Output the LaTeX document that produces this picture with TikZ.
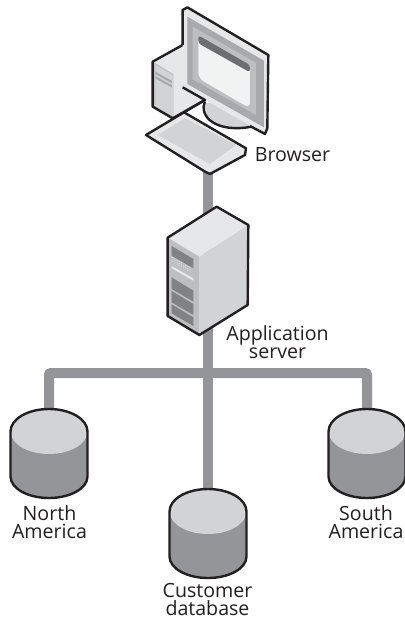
\documentclass[tikz,border=0pt]{standalone}
\usepackage{fontspec}
\setmainfont{Open Sans}
\definecolor{bus}{HTML}{939598}
\definecolor{lite}{HTML}{D1D3D4}
\definecolor{pale}{HTML}{E6E7E8}
\definecolor{midg}{HTML}{BCBEC0}
\definecolor{frameg}{HTML}{A7A9AC}
\definecolor{darkg}{HTML}{808285}
\definecolor{scr}{HTML}{F1F2F2}
\definecolor{bar}{HTML}{6D6E71}
\definecolor{ink}{HTML}{231F20}
\tikzset{
  busline/.style={draw=bus,line width=10pt,rounded corners=2pt},
  outline/.style={draw=ink,line width=2.4pt,line join=round},
  label/.style={font=\fontsize{19.6}{18}\selectfont,text=ink,align=center,inner sep=0pt,anchor=base},
  zoomA/.style={shift={(110,0)},x=0.3333pt,y=-0.3333pt},
  zoomB/.style={shift={(150,190)},x=0.3333pt,y=-0.3333pt},
  pics/dbcyl/.style={code={
    \fill[bus] (-38.5,0) arc[start angle=180,end angle=360,x radius=38.5,y radius=22.5] -- (38.5,45) arc[start angle=0,end angle=180,x radius=38.5,y radius=21.5] -- cycle;
    \fill[lite] (0,0) ellipse[x radius=38.5,y radius=22.5];
    \draw[outline] (-38.5,0) arc[start angle=180,end angle=360,x radius=38.5,y radius=22.5] -- (38.5,45) arc[start angle=0,end angle=180,x radius=38.5,y radius=21.5] -- cycle;
  }}
}
\begin{document}
\begin{tikzpicture}[x=1pt,y=-1pt]
\useasboundingbox (0,0) rectangle (404,620);
\fill[white] (0,0) rectangle (404,620);
\coordinate (browser) at (208,150);
\coordinate (server) at (208,270);
\coordinate (hub) at (208,373);
\coordinate (north) at (49,431.5);
\coordinate (south) at (367,431.5);
\coordinate (customer) at (208,511.5);
% connectors
\draw[busline] (browser) -- (server);
\draw[busline] (server) -- (customer);
\draw[busline] (north) |- (hub) -| (south);
% databases
\pic at (north) {dbcyl};
\pic at (south) {dbcyl};
\pic at (customer) {dbcyl};
% computer
\begin{scope}[zoomA]
  \fill[pale] (128,185) -- (218,135) -- (285,300) -- (188,355) -- (128,320) -- cycle;
  \fill[midg] (128,185) -- (190,222) -- (190,355) -- (128,320) -- cycle;
  \fill[lite] (136,195) -- (190,226) -- (190,350) -- (136,318) -- cycle;
  \fill[frameg] (136,215) -- (186,243) -- (186,250) -- (136,222) -- cycle;
  \fill[frameg] (136,228) -- (186,256) -- (186,263) -- (136,235) -- cycle;
  \draw[outline] (218,135) -- (128,185) -- (128,320) -- (188,355) -- (285,300);
  % stand
  \fill[lite] (285,310) .. controls (270,350) and (320,395) .. (420,378) -- (440,300) -- cycle;
  \draw[outline] (285,305) .. controls (265,350) and (320,400) .. (425,380);
  % monitor
  \fill[pale] (218,30) -- (232,22) -- (475,165) -- (472,385) -- (465,402) -- (218,262) -- cycle;
  \fill[frameg] (232,50) -- (462,182) -- (462,382) -- (232,252) -- cycle;
  \fill[midg] (248,80) -- (438,188) -- (438,345) -- (248,238) -- cycle;
  \fill[scr,rounded corners=6pt] (265,108) -- (420,195) -- (420,325) -- (265,235) -- cycle;
  \fill[bar,rounded corners=3pt] (265,106) -- (420,195) -- (420,217) -- (265,130) -- cycle;
  \draw[outline] (218,135) -- (218,30) -- (232,22) -- (475,165) -- (472,385) -- (465,402) -- (420,378);
  \draw[outline] (218,262) -- (285,300) -- (222,337);
  % keyboard
  \fill[pale] (108,405) -- (222,335) -- (408,445) -- (405,465) -- (300,522) -- (285,515) -- cycle;
  \fill[lite] (143,405) -- (225,355) -- (378,435) -- (300,492) -- cycle;
  \draw[outline] (108,405) -- (222,337) -- (408,445) -- (405,465) -- (300,522) -- (285,515) -- cycle;
\end{scope}
% server
\begin{scope}[zoomB]
  \fill[pale] (200,50) -- (295,105) -- (148,200) -- (53,143) -- cycle;
  \fill[lite] (148,200) -- (295,105) -- (293,345) -- (148,435) -- cycle;
  \fill[midg] (53,143) -- (148,200) -- (148,435) -- (53,378) -- cycle;
  \fill[pale] (65,228) -- (130,265) -- (130,272) -- (65,235) -- cycle;
  \fill[darkg] (65,168) -- (130,207) -- (130,235) -- (65,197) -- cycle;
  \foreach \k in {0,1,2} \foreach \j in {0,...,8}
    \fill[pale] ({68+\j*6.5},{203+\j*3.8+\k*6}) circle[radius=1.4];
  \fill[darkg] (65,262) -- (130,302) -- (130,335) -- (65,297) -- cycle;
  \fill[darkg] (65,303) -- (130,342) -- (130,375) -- (65,337) -- cycle;
  \fill[darkg] (65,343) -- (130,382) -- (130,408) -- (65,370) -- cycle;
  \draw[outline] (200,50) -- (295,105) -- (293,345) -- (148,435) -- (53,378) -- (53,143) -- cycle;
\end{scope}
% labels
\node[label] (lbrowser) at (292.5,162) {Browser};
\node[label] (lserver) at (277.5,358) {Application\\server};
\node[label] (lnorth) at (49.5,538) {North\\America};
\node[label] (lsouth) at (366,538) {South\\America};
\node[label] (lcustomer) at (207.5,615) {Customer\\database};
\end{tikzpicture}
\end{document}
